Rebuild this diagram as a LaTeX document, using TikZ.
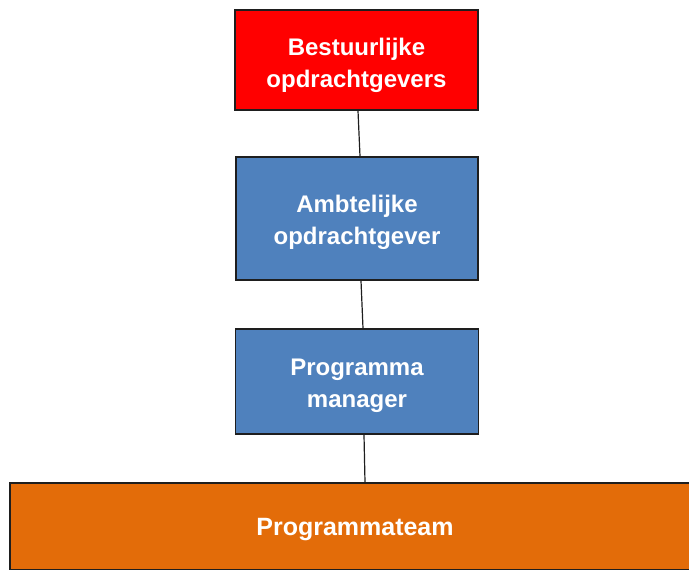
\documentclass[tikz,border=0pt]{standalone}
\usepackage{fontspec}
\setmainfont{Liberation Sans}
\definecolor{boxred}{HTML}{FF0000}
\definecolor{boxblue}{HTML}{4F81BD}
\definecolor{boxorange}{HTML}{E36C09}
\definecolor{edge}{HTML}{1E1E1E}
\begin{document}
\begin{tikzpicture}[x=1pt,y=-1pt,
  orgbox/.style={draw=edge,line width=1.5pt,inner sep=0pt},
  boxtext/.style={text=white,align=center,inner sep=0pt,
    font=\fontsize{24}{32}\selectfont\bfseries},
  link/.style={draw=edge,line width=1.2pt}]
\useasboundingbox (0,0) rectangle (689,570);
\begin{scope}
\clip (0,0) rectangle (689,570);
\node[orgbox,fill=boxred,minimum width=243pt,minimum height=100pt] (a) at (356.5,60) {};
\node[boxtext] (ta) at ([yshift=-5pt]a.center) {Bestuurlijke\\opdrachtgevers};
\node[orgbox,fill=boxblue,minimum width=242pt,minimum height=123pt] (b) at (357,218.5) {};
\node[boxtext] (tb) at ([yshift=-4pt]b.center) {Ambtelijke\\opdrachtgever};
\node[orgbox,fill=boxblue,minimum width=243pt,minimum height=105pt] (c) at (357,381.5) {};
\node[boxtext] (tc) at ([yshift=-4pt]c.center) {Programma\\manager};
\node[orgbox,fill=boxorange,minimum width=690pt,minimum height=87pt] (d) at (355,526.5) {};
\node[boxtext,font=\fontsize{25}{32}\selectfont\bfseries] (td) at ([yshift=-3pt]d.center) {Programmateam};
\draw[link] ([xshift=1.5pt]a.south) -- ([xshift=3pt]b.north);
\draw[link] ([xshift=4pt]b.south) -- ([xshift=6pt]c.north);
\draw[link] ([xshift=7pt]c.south) -- ([xshift=10pt]d.north);
\end{scope}
\end{tikzpicture}
\end{document}
